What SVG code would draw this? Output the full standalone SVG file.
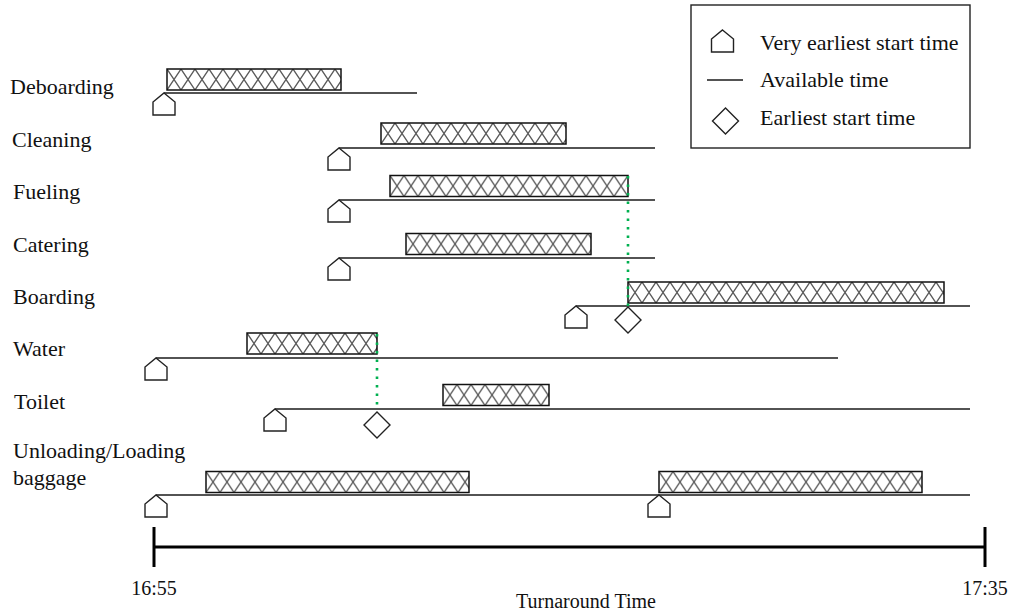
<svg xmlns="http://www.w3.org/2000/svg" width="1011" height="613" viewBox="0 0 1011 613">
  <style>
    .lbl { font-family: "Liberation Serif", "Times New Roman", serif; font-size: 22px; fill: #111; }
    .axlbl { font-family: "Liberation Serif", "Times New Roman", serif; font-size: 20px; fill: #111; }
    .avail { stroke: #1a1a1a; stroke-width: 1.6; fill: none; }
    .bar { fill: url(#cross); stroke: #111; stroke-width: 1.5; }
    .mark { fill: #fff; stroke: #222; stroke-width: 1.4; stroke-linejoin: miter; }
    .dep { stroke: #00b050; stroke-width: 2.6; stroke-dasharray: 2.6 5.9; fill: none; }
    .axis { stroke: #000; stroke-width: 3; fill: none; }
  </style>
  <defs>
    <!-- diagonal cross-hatch fill; each bar is drawn at its own origin so the tiles line up with its top edge -->
    <pattern id="cross" patternUnits="userSpaceOnUse" width="14" height="21">
      <rect width="14" height="21" fill="#fff"/>
      <path d="M0,0 L14,21 M14,0 L0,21" stroke="#5a5a5a" stroke-width="1.3"/>
    </pattern>
    <!-- very earliest start time marker: apex sits on the time line -->
    <path id="penta" class="mark" d="M0,0 L11,9 L11,22 L-11,22 L-11,9 Z"/>
    <!-- earliest start time marker: top corner sits on the time line -->
    <path id="diam" class="mark" d="M0,0 L13,13 L0,26 L-13,13 Z"/>
  </defs>

  <rect width="1011" height="613" fill="#fff"/>

  <!-- task rows -->
  <g id="deboarding">
    <text class="lbl" x="10" y="94">Deboarding</text>
    <line class="avail" x1="164" y1="93" x2="417" y2="93"/>
    <rect class="bar" x="0" y="0" width="174" height="21" transform="translate(167,69)"/>
    <use href="#penta" x="164" y="93"/>
  </g>

  <g id="cleaning">
    <text class="lbl" x="12" y="147">Cleaning</text>
    <line class="avail" x1="339" y1="148" x2="655" y2="148"/>
    <rect class="bar" x="0" y="0" width="185" height="21" transform="translate(381,123)"/>
    <use href="#penta" x="339" y="148"/>
  </g>

  <g id="fueling">
    <text class="lbl" x="13" y="199">Fueling</text>
    <line class="avail" x1="339" y1="200" x2="655" y2="200"/>
    <rect class="bar" x="0" y="0" width="238" height="21" transform="translate(390,175.5)"/>
    <use href="#penta" x="339" y="200"/>
  </g>

  <g id="catering">
    <text class="lbl" x="13" y="252">Catering</text>
    <line class="avail" x1="339" y1="258" x2="655" y2="258"/>
    <rect class="bar" x="0" y="0" width="185" height="21" transform="translate(406,233.5)"/>
    <use href="#penta" x="339" y="258"/>
  </g>

  <g id="boarding">
    <text class="lbl" x="13" y="304">Boarding</text>
    <line class="avail" x1="576" y1="306" x2="970" y2="306"/>
    <rect class="bar" x="0" y="0" width="316" height="21" transform="translate(628,282)"/>
    <use href="#penta" x="576" y="306"/>
    <use href="#diam" x="628" y="307"/>
  </g>

  <g id="water">
    <text class="lbl" x="13" y="356">Water</text>
    <line class="avail" x1="156" y1="358" x2="838" y2="358"/>
    <rect class="bar" x="0" y="0" width="130" height="21" transform="translate(247,333)"/>
    <use href="#penta" x="156" y="358"/>
  </g>

  <g id="toilet">
    <text class="lbl" x="14" y="409">Toilet</text>
    <line class="avail" x1="275" y1="409" x2="970" y2="409"/>
    <rect class="bar" x="0" y="0" width="106" height="21" transform="translate(443,384.5)"/>
    <use href="#penta" x="275" y="409"/>
    <use href="#diam" x="377" y="412"/>
  </g>

  <g id="baggage">
    <text class="lbl" x="13" y="458">Unloading/Loading</text>
    <text class="lbl" x="13" y="485">baggage</text>
    <line class="avail" x1="156" y1="495" x2="970" y2="495"/>
    <rect class="bar" x="0" y="0" width="263" height="21" transform="translate(206,471.5)"/>
    <rect class="bar" x="0" y="0" width="263" height="21" transform="translate(659,471.5)"/>
    <use href="#penta" x="156" y="495"/>
    <use href="#penta" x="659" y="495"/>
  </g>

  <!-- dependency connectors (green dotted) -->
  <g id="connectors">
    <line class="dep" x1="628" y1="176" x2="628" y2="306"/>
    <line class="dep" x1="377" y1="334" x2="377" y2="409"/>
  </g>

  <!-- time axis -->
  <g id="axis">
    <line class="axis" x1="154" y1="547" x2="985" y2="547"/>
    <line class="axis" x1="154" y1="527" x2="154" y2="567"/>
    <line class="axis" x1="985" y1="527" x2="985" y2="567"/>
    <text class="axlbl" x="154" y="595" text-anchor="middle">16:55</text>
    <text class="axlbl" x="985" y="595" text-anchor="middle">17:35</text>
    <text class="axlbl" x="586" y="608" text-anchor="middle">Turnaround Time</text>
  </g>

  <!-- legend -->
  <g id="legend">
    <rect x="691" y="5" width="279" height="143" fill="#fff" stroke="#222" stroke-width="1.4"/>
    <use href="#penta" x="722.5" y="30"/>
    <text class="lbl" x="760" y="50">Very earliest start time</text>
    <line class="avail" x1="707" y1="80" x2="743" y2="80"/>
    <text class="lbl" x="760" y="87">Available time</text>
    <use href="#diam" x="725.5" y="108"/>
    <text class="lbl" x="760" y="125">Earliest start time</text>
  </g>
</svg>
